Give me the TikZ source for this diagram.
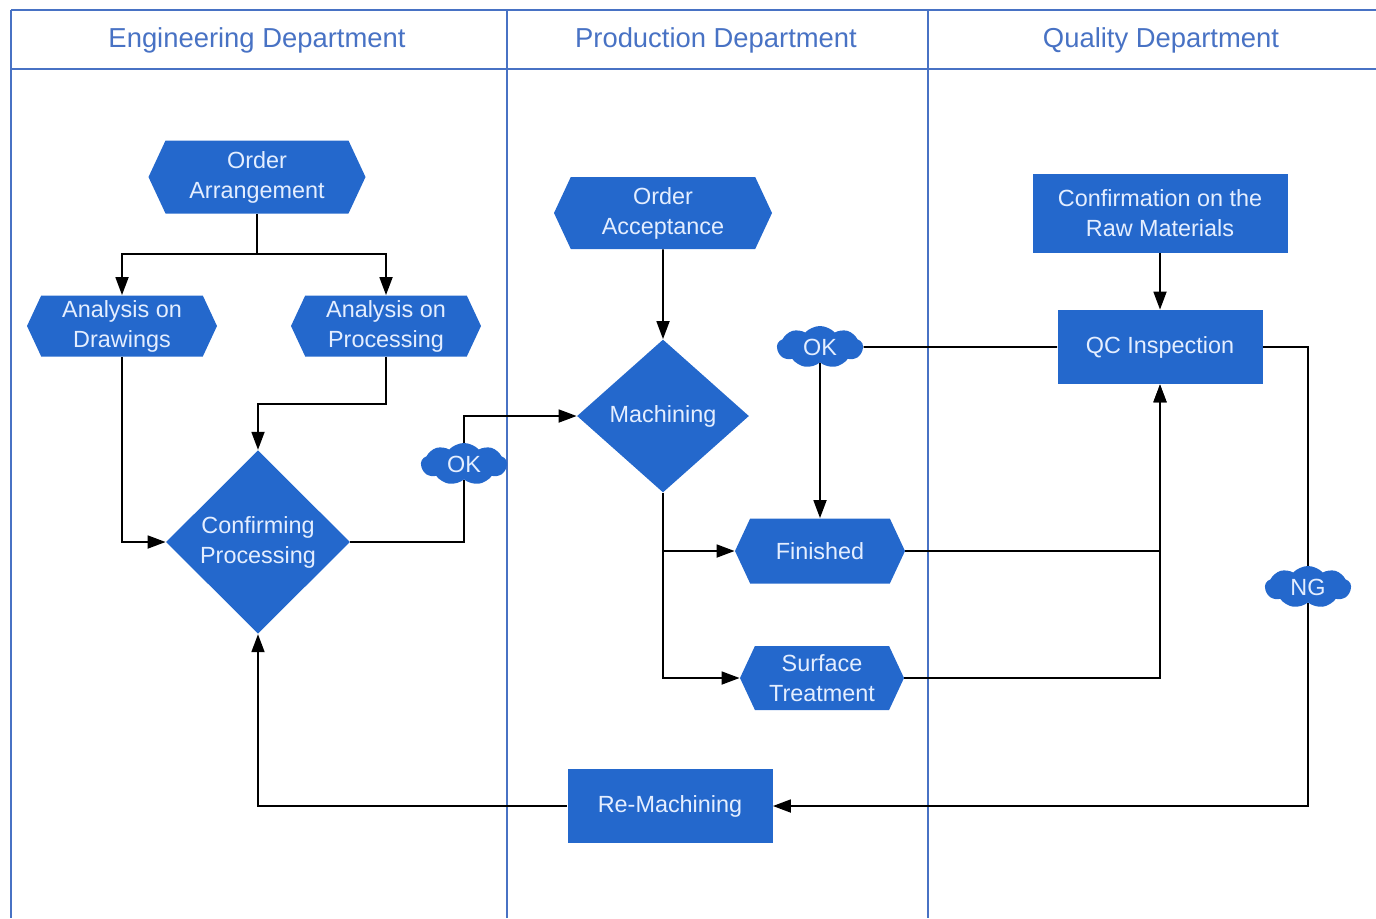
\documentclass[tikz,border=0pt]{standalone}
\usepackage{xcolor}
\usepackage{fontspec}
\setmainfont{Liberation Sans}
\usepackage{tikz}
\usetikzlibrary{shapes.geometric, shapes.symbols, arrows.meta}
\definecolor{nodeblue}{RGB}{36,104,204}
\definecolor{laneblue}{RGB}{72,114,196}
\definecolor{nodetext}{RGB}{228,238,255}
\tikzstyle{box} = [rectangle, minimum width=102.5pt, minimum height=37pt, text centered, fill=nodeblue, text=nodetext, font=\fontsize{11.7}{15}\selectfont, align=center, inner sep=2pt]
\tikzstyle{hexa} = [box, signal, signal to=west and east, signal pointer angle=130]
\tikzstyle{decision} = [box, diamond]
\tikzstyle{bubble} = [box, cloud, cloud puffs=9, cloud puff arc=95, aspect=2, minimum width=43pt, minimum height=21pt, inner sep=0pt]
\tikzstyle{lane} = [draw=laneblue, line width=0.75pt]
\tikzstyle{lanetitle} = [text=laneblue, font=\fontsize{13.7}{16}\selectfont]
\tikzstyle{line} = [line width=0.9pt, black]
\tikzstyle{arrow} = [line, ->, >={Triangle[length=9pt,width=6.5pt]}]

\begin{document}
\begin{tikzpicture}[x=0.5pt, y=-0.5pt, node distance=20pt]
\useasboundingbox (0,0) rectangle (1376,918);
% Corsie
\draw [lane] (11,10) -- (1376,10);
\draw [lane] (11,69) -- (1376,69);
\draw [lane] (11,10) -- (11,918);
\draw [lane] (507,10) -- (507,918);
\draw [lane] (928,10) -- (928,918);
\node (engtitle) [lanetitle] at (257,40) {Engineering Department};
\node (prodtitle) [lanetitle] at (716,40) {Production Department};
\node (qualtitle) [lanetitle] at (1161,40) {Quality Department};

% Nodi principali
\node (orderarr) [hexa, minimum width=108.5pt, minimum height=36.5pt] at (257,177) {Order\\Arrangement};
\node (anadraw) [hexa, minimum width=95pt, minimum height=30.5pt, below of=orderarr, xshift=-67.5pt, yshift=-54.5pt] {Analysis on\\Drawings};
\node (anaproc) [hexa, minimum width=95pt, minimum height=30.5pt, below of=orderarr, xshift=64.5pt, yshift=-54.5pt] {Analysis on\\Processing};
\node (confproc) [decision, minimum width=92pt, minimum height=91pt, below of=orderarr, xshift=0.5pt, yshift=-162.5pt] {Confirming\\Processing};
\node (ok1) [bubble, right of=confproc, xshift=83pt, yshift=39pt] {OK};

\node (orderacc) [hexa, minimum width=109pt, minimum height=36pt, right of=orderarr, xshift=183pt, yshift=-18pt] {Order\\Acceptance};
\node (machining) [decision, minimum width=86pt, minimum height=76.5pt, below of=orderacc, yshift=-81.5pt] {Machining};
\node (finished) [hexa, minimum width=85pt, minimum height=32.5pt, below of=machining, xshift=78.5pt, yshift=-47.5pt] {Finished};
\node (surface) [hexa, minimum width=82pt, minimum height=32pt, below of=finished, xshift=1pt, yshift=-43.5pt] {Surface\\Treatment};
\node (remach) [box, minimum width=102.5pt, minimum height=37pt, below of=surface, xshift=-76pt, yshift=-44pt] {Re-Machining};
\node (ok2) [bubble, above of=finished, yshift=82pt] {OK};

\node (confraw) [box, minimum width=127.5pt, minimum height=39.5pt, right of=orderacc, xshift=228.5pt] {Confirmation on the\\Raw Materials};
\node (qcinsp) [box, below of=confraw, yshift=-47pt] {QC Inspection};
\node (ng) [bubble, below of=qcinsp, xshift=74pt, yshift=-100pt] {NG};

% Frecce
\draw [arrow] (orderarr.south) -- ++(0,40) -| (anadraw);
\draw [arrow] (orderarr.south) -- ++(0,40) -| (anaproc);
\draw [arrow] (anaproc.south) -- ++(0,47) -| (confproc);
\draw [arrow] (anadraw) |- (confproc);
\draw [line] (confproc) -| (ok1);
\draw [arrow] (ok1) |- (machining);

\draw [arrow] (orderacc) -- (machining);
\draw [arrow] (machining) |- (finished);
\draw [arrow] (machining) |- (surface);
\draw [arrow] (finished) -| (qcinsp);
\draw [arrow] (surface) -| (qcinsp);

\draw [arrow] (confraw) -- (qcinsp);
\draw [line] (qcinsp) -- (ok2);
\draw [arrow] (ok2) -- (finished);
\draw [line] (qcinsp) -| (ng);
\draw [arrow] (ng) |- (remach);
\draw [arrow] (remach) -| (confproc);

\end{tikzpicture}
\end{document}
